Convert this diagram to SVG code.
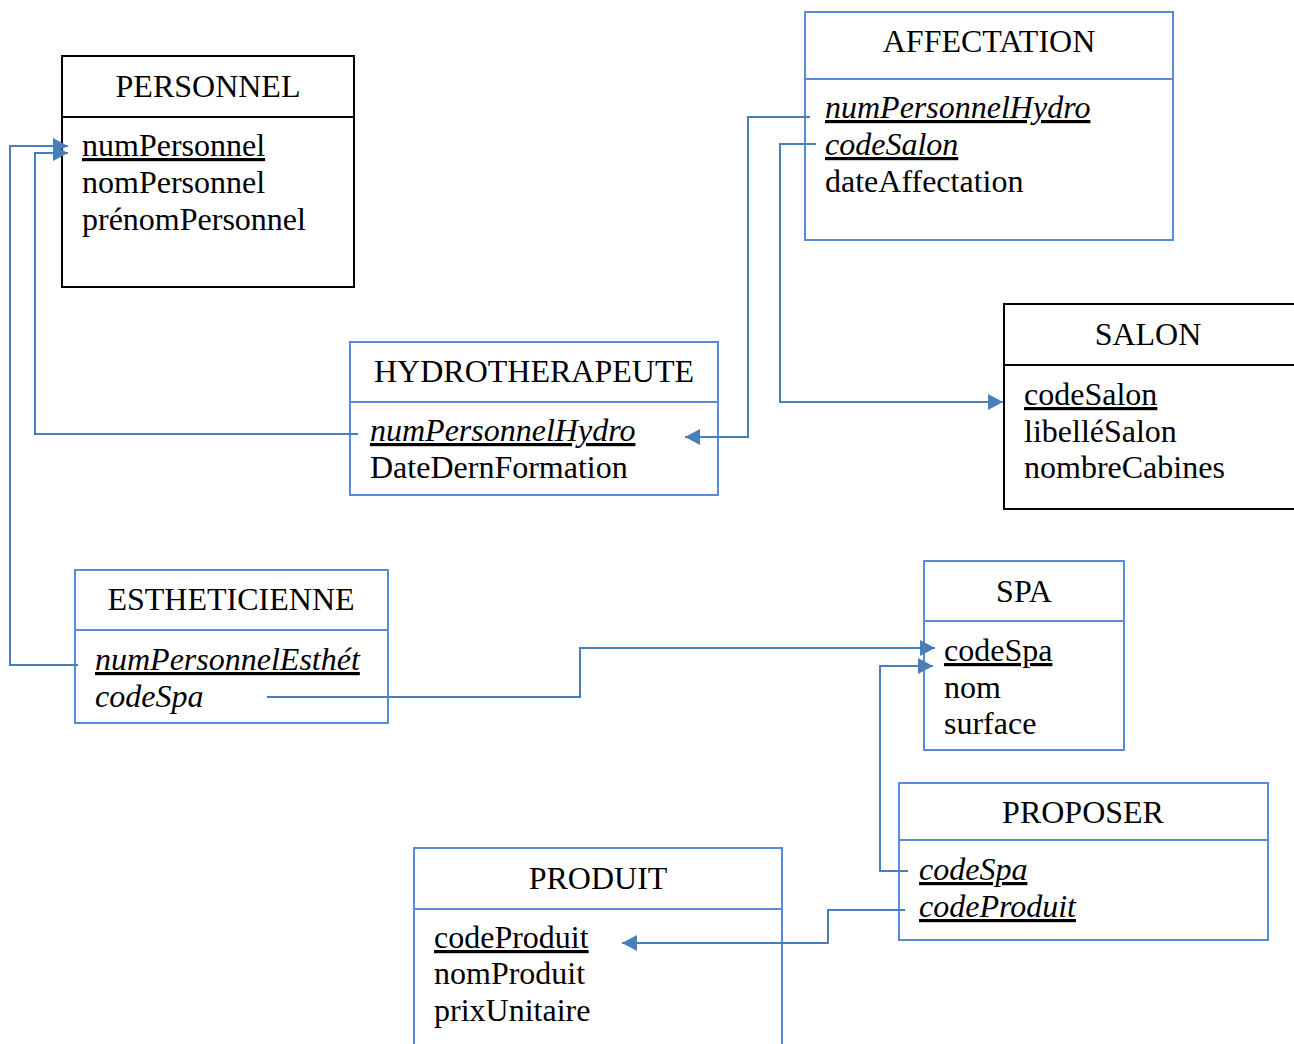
<svg xmlns="http://www.w3.org/2000/svg" width="1294" height="1044" viewBox="0 0 1294 1044">
<style>
text{font-family:"Liberation Serif","Times New Roman",serif;font-size:32px;fill:#000}
.t{text-anchor:middle}
.u{text-decoration:underline}
.i{font-style:italic}
.bk{fill:#fff;stroke:#000;stroke-width:2}
.bl{fill:#fff;stroke:#5a8bd6;stroke-width:2}
.dk{stroke:#000;stroke-width:2}
.db{stroke:#5a8bd6;stroke-width:2}
.c{fill:none;stroke:#4a7ebb;stroke-width:2;marker-end:url(#ar)}
</style>
<defs>
<marker id="ar" markerUnits="userSpaceOnUse" markerWidth="16" markerHeight="16" refX="15" refY="8" orient="auto">
<path d="M0,0 L15,8 L0,16 z" fill="#4a7ebb"/>
</marker>
</defs>
<rect width="1294" height="1044" fill="#fff"/>

<g id="PERSONNEL">
<rect class="bk" x="62" y="56" width="292" height="231"/>
<line class="dk" x1="62" y1="117" x2="354" y2="117"/>
<text class="t" x="208" y="97">PERSONNEL</text>
<text class="u" x="82" y="156">numPersonnel</text>
<text x="82" y="193">nomPersonnel</text>
<text x="82" y="230">prénomPersonnel</text>
</g>

<g id="AFFECTATION">
<rect class="bl" x="805" y="12" width="368" height="228"/>
<line class="db" x1="805" y1="79" x2="1173" y2="79"/>
<text class="t" x="989" y="52">AFFECTATION</text>
<text class="u i" x="825" y="118">numPersonnelHydro</text>
<text class="u i" x="825" y="155">codeSalon</text>
<text x="825" y="192">dateAffectation</text>
</g>

<g id="HYDROTHERAPEUTE">
<rect class="bl" x="350" y="342" width="368" height="153"/>
<line class="db" x1="350" y1="402" x2="718" y2="402"/>
<text class="t" x="534" y="382">HYDROTHERAPEUTE</text>
<text class="u i" x="370" y="441">numPersonnelHydro</text>
<text x="370" y="478">DateDernFormation</text>
</g>

<g id="SALON">
<rect class="bk" x="1004" y="304" width="300" height="205"/>
<line class="dk" x1="1004" y1="365" x2="1294" y2="365"/>
<text class="t" x="1148" y="345">SALON</text>
<text class="u" x="1024" y="405">codeSalon</text>
<text x="1024" y="442">libelléSalon</text>
<text x="1024" y="478">nombreCabines</text>
</g>

<g id="ESTHETICIENNE">
<rect class="bl" x="75" y="570" width="313" height="153"/>
<line class="db" x1="75" y1="630" x2="388" y2="630"/>
<text class="t" x="231" y="610">ESTHETICIENNE</text>
<text class="u i" x="95" y="670">numPersonnelEsthét</text>
<text class="i" x="95" y="707">codeSpa</text>
</g>

<g id="SPA">
<rect class="bl" x="924" y="561" width="200" height="189"/>
<line class="db" x1="924" y1="621" x2="1124" y2="621"/>
<text class="t" x="1024" y="602">SPA</text>
<text class="u" x="944" y="661">codeSpa</text>
<text x="944" y="698">nom</text>
<text x="944" y="734">surface</text>
</g>

<g id="PROPOSER">
<rect class="bl" x="899" y="783" width="369" height="157"/>
<line class="db" x1="899" y1="840" x2="1268" y2="840"/>
<text class="t" x="1083" y="823">PROPOSER</text>
<text class="u i" x="919" y="880">codeSpa</text>
<text class="u i" x="919" y="917">codeProduit</text>
</g>

<g id="PRODUIT">
<rect class="bl" x="414" y="848" width="368" height="210"/>
<line class="db" x1="414" y1="909" x2="782" y2="909"/>
<text class="t" x="598" y="889">PRODUIT</text>
<text class="u" x="434" y="948">codeProduit</text>
<text x="434" y="984">nomProduit</text>
<text x="434" y="1021">prixUnitaire</text>
</g>

<g id="connectors">
<path class="c" d="M78,665 H10 V146 H68"/>
<path class="c" d="M358,434 H35 V153 H68"/>
<path class="c" d="M810,117 H748 V437 H685"/>
<path class="c" d="M816,144 H780 V402 H1003"/>
<path class="c" d="M267,697 H580 V648 H935"/>
<path class="c" d="M908,871 H880 V666 H933"/>
<path class="c" d="M905,910 H828 V943 H622"/>
</g>
</svg>
